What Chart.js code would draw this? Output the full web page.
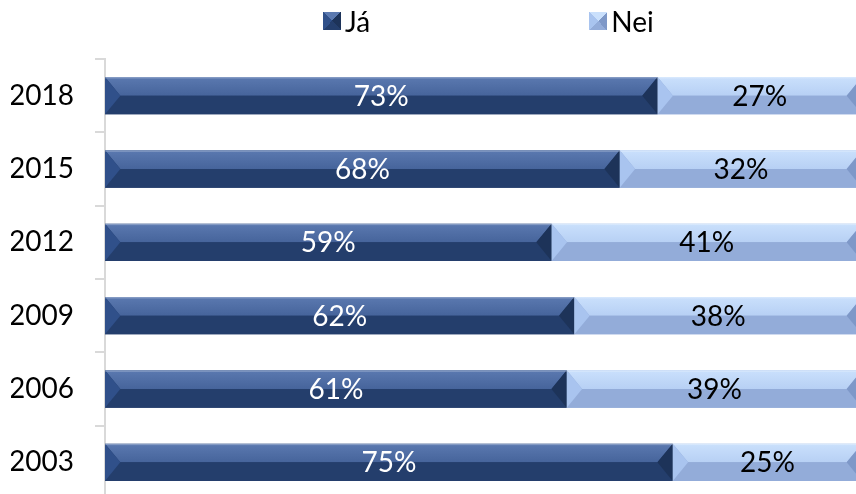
<!DOCTYPE html>
<html lang="is">
<head>
    <meta charset="UTF-8">
    <title>Já / Nei eftir árum</title>
    <script src="https://cdn.jsdelivr.net/npm/chart.js@4.4.0/dist/chart.umd.min.js"></script>
    <style>
        html, body {
            margin: 0;
            padding: 0;
            background: #ffffff;
        }
        #frame {
            position: relative;
            width: 856px;
            height: 494px;
            overflow: hidden;
            font-family: Lato, "Open Sans", sans-serif;
        }
        #legend {
            position: absolute;
            top: 4px;
            left: 323px;
            display: flex;
            gap: 219px;
            font-size: 28px;
            color: #000;
            z-index: 2;
        }
        .legend-item {
            display: flex;
            align-items: center;
        }
        .legend-box {
            width: 18px;
            height: 18px;
            margin-right: 4px;
        }
        #chartBox {
            position: absolute;
            left: 0;
            top: 0;
        }
    </style>
</head>
<body>
<div id="frame">
    <div id="legend"></div>
    <div id="chartBox">
        <canvas id="yesNoChart" width="870" height="500"></canvas>
    </div>
</div>

<script>
    // Survey years, top row first
    const years = ['2018', '2015', '2012', '2009', '2006', '2003'];
    const seriesNames = ['Já', 'Nei'];
    const yesShare = [73, 68, 59, 62, 61, 75];
    const noShare = [27, 32, 41, 38, 39, 25];

    // Colours for the slanted-bevel look: top face, bottom face, left end, right end
    const bevelTones = [
        { top: ['#5b79b0', '#46649b'], bottom: '#243e6c', left: '#30508a', right: '#1d3359' },
        { top: ['#cae0fc', '#b7d0f4'], bottom: '#93acd9', left: '#a9c4ef', right: '#7e98c8' }
    ];
    const labelColors = ['#ffffff', '#000000'];
    const fontStack = 'Lato, "Open Sans", sans-serif';

    // Draws the bevelled faces over every bar the library laid out
    const bevelPlugin = {
        id: 'bevel',
        afterDatasetsDraw(chart) {
            const ctx = chart.ctx;
            chart.data.datasets.forEach((ds, i) => {
                const meta = chart.getDatasetMeta(i);
                const tone = bevelTones[i];
                meta.data.forEach(bar => {
                    const p = bar.getProps(['x', 'y', 'base', 'height'], true);
                    const left = Math.min(p.x, p.base);
                    const right = Math.max(p.x, p.base);
                    const top = p.y - p.height / 2;
                    const bottom = p.y + p.height / 2;
                    const mid = p.y;
                    const s = Math.min(p.height * 0.41, (right - left) / 2);

                    const poly = (pts, fill) => {
                        ctx.beginPath();
                        ctx.moveTo(pts[0][0], pts[0][1]);
                        for (let k = 1; k < pts.length; k++) ctx.lineTo(pts[k][0], pts[k][1]);
                        ctx.closePath();
                        ctx.fillStyle = fill;
                        ctx.fill();
                    };

                    ctx.save();
                    const grad = ctx.createLinearGradient(0, top, 0, mid);
                    grad.addColorStop(0, tone.top[0]);
                    grad.addColorStop(1, tone.top[1]);
                    poly([[left, top], [right, top], [right - s, mid], [left + s, mid]], grad);
                    poly([[left + s, mid], [right - s, mid], [right, bottom], [left, bottom]], tone.bottom);
                    poly([[left, top], [left + s, mid], [left, bottom]], tone.left);
                    poly([[right, top], [right, bottom], [right - s, mid]], tone.right);

                    // thin highlight along the top edge
                    ctx.fillStyle = 'rgba(255,255,255,0.25)';
                    ctx.fillRect(left, top, right - left, 1.5);
                    ctx.restore();
                });
            });
        }
    };

    // Percentage text centred in each segment
    const valueLabelPlugin = {
        id: 'valueLabels',
        afterDatasetsDraw(chart) {
            const ctx = chart.ctx;
            ctx.save();
            ctx.font = '28px ' + fontStack;
            ctx.textAlign = 'center';
            ctx.textBaseline = 'middle';
            chart.data.datasets.forEach((ds, i) => {
                const meta = chart.getDatasetMeta(i);
                ctx.fillStyle = labelColors[i];
                meta.data.forEach((bar, j) => {
                    const p = bar.getProps(['x', 'y', 'base'], true);
                    ctx.fillText(ds.data[j] + '%', (p.x + p.base) / 2, p.y + 1);
                });
            });
            ctx.restore();
        }
    };

    const ctx = document.getElementById('yesNoChart').getContext('2d');
    const yesNoChart = new Chart(ctx, {
        type: 'bar',
        data: {
            labels: years,
            datasets: [
                {
                    label: seriesNames[0],
                    data: yesShare,
                    backgroundColor: bevelTones[0].bottom,
                    borderWidth: 0,
                    categoryPercentage: 1,
                    barPercentage: 0.51
                },
                {
                    label: seriesNames[1],
                    data: noShare,
                    backgroundColor: bevelTones[1].bottom,
                    borderWidth: 0,
                    categoryPercentage: 1,
                    barPercentage: 0.51
                }
            ]
        },
        options: {
            indexAxis: 'y',
            responsive: false,
            animation: false,
            layout: {
                padding: { top: 59, bottom: 1, left: 11, right: 8 }
            },
            plugins: {
                legend: { display: false },
                tooltip: { enabled: false }
            },
            scales: {
                x: {
                    stacked: true,
                    min: 0,
                    max: 100,
                    display: false
                },
                y: {
                    stacked: true,
                    // fixed label column; no extra padding above/below the category band
                    afterFit(scale) {
                        scale.width = 94;
                        scale.paddingTop = 0;
                        scale.paddingBottom = 0;
                        scale.paddingLeft = 0;
                        scale.paddingRight = 0;
                    },
                    grid: {
                        drawOnChartArea: false,
                        color: '#d9d9d9',
                        lineWidth: 2,
                        tickLength: 10
                    },
                    border: {
                        color: '#d9d9d9',
                        width: 2
                    },
                    ticks: {
                        color: '#000000',
                        padding: 21,
                        font: { family: fontStack, size: 28 }
                    }
                }
            }
        },
        plugins: [bevelPlugin, valueLabelPlugin]
    });

    // Legend built from the dataset names, with small pyramid-style swatches
    const legend = document.getElementById('legend');
    yesNoChart.data.datasets.forEach((ds, i) => {
        const t = bevelTones[i];
        const item = document.createElement('div');
        item.className = 'legend-item';
        const box = document.createElement('span');
        box.className = 'legend-box';
        box.style.background = 'conic-gradient(from -45deg, ' +
            t.top[0] + ' 0deg 90deg, ' + t.right + ' 90deg 180deg, ' +
            t.bottom + ' 180deg 270deg, ' + t.left + ' 270deg 360deg)';
        const text = document.createElement('span');
        text.textContent = ds.label;
        item.appendChild(box);
        item.appendChild(text);
        legend.appendChild(item);
    });
</script>
</body>
</html>
